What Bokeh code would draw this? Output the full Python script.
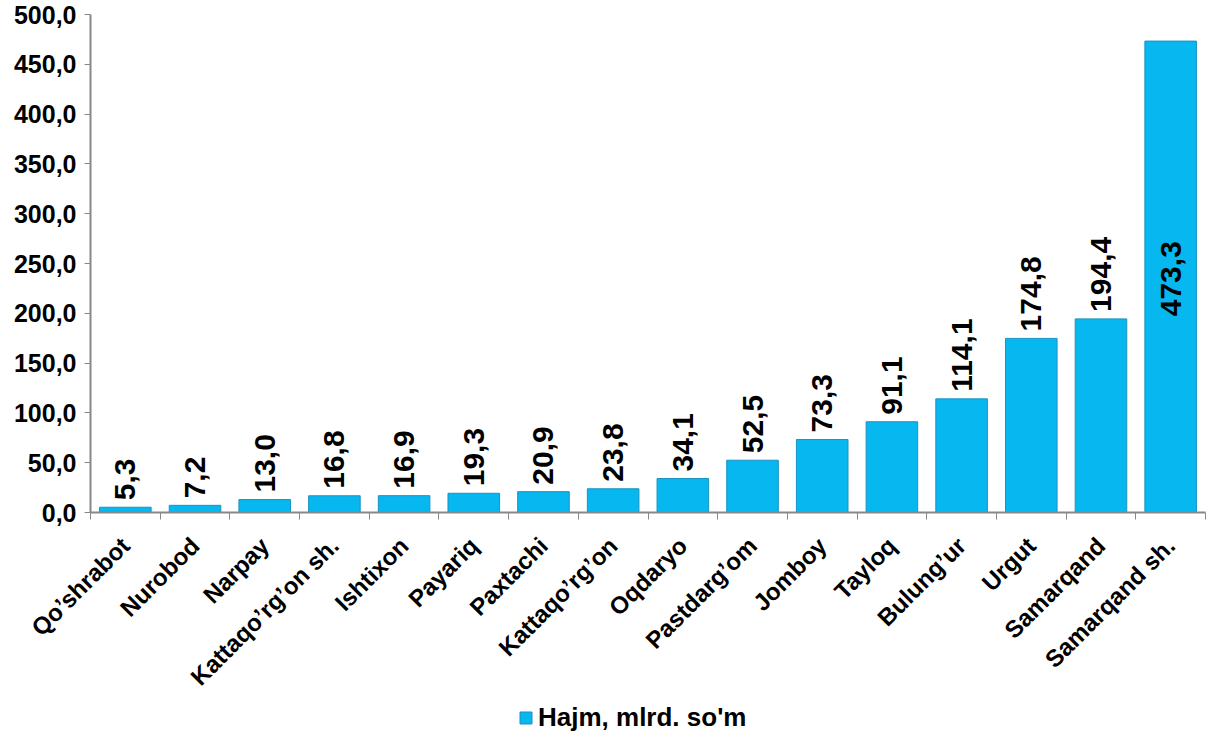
import math
import numpy as np
from bokeh.plotting import figure
from bokeh.layouts import column
from bokeh.models import ColumnDataSource, FixedTicker, Range1d, Legend, LegendItem
from bokeh.core.properties import value
from bokeh.embed import file_html
from bokeh.resources import INLINE

regions = ["Qo\u2019shrabot", "Nurobod", "Narpay", "Kattaqo\u2019rg\u2019on sh.", "Ishtixon",
           "Payariq", "Paxtachi", "Kattaqo\u2019rg\u2019on", "Oqdaryo", "Pastdarg\u2019om",
           "Jomboy", "Tayloq", "Bulung\u2019ur", "Urgut", "Samarqand", "Samarqand sh."]
volumes = [5.3, 7.2, 13.0, 16.8, 16.9, 19.3, 20.9, 23.8, 34.1, 52.5, 73.3, 91.1, 114.1, 174.8, 194.4, 473.3]
y_ticks = [0, 50, 100, 150, 200, 250, 300, 350, 400, 450, 500]
series_name = "Hajm, mlrd. so'm"

FONT = "Liberation Sans"
BAR_FILL = "#07B7EF"
BAR_LINE = "#1A93C2"
n = len(regions)
xs = [i + 0.5 for i in range(n)]
labels = [f"{v:.1f}".replace(".", ",") for v in volumes]
# labels sit above bars; a label that would leave the plot goes inside the bar
label_y = [v if v < 300 else 190 for v in volumes]

src = ColumnDataSource(dict(x=xs, top=volumes, lab=labels, ly=label_y))

p = figure(width=1209, frame_height=498, output_backend="svg", toolbar_location=None,
           x_range=Range1d(0, n), y_range=Range1d(0, 500),
           min_border_left=90, min_border_right=4, min_border_top=14, min_border_bottom=0)
p.outline_line_color = None
p.xgrid.grid_line_color = None
p.ygrid.grid_line_color = None

p.vbar(x="x", top="top", width=0.74, source=src, fill_color=BAR_FILL,
       line_color=BAR_LINE, line_width=1)

p.text(x="x", y="ly", text="lab", source=src, angle=math.pi / 2,
       text_align="left", text_baseline="middle", y_offset=-7,
       text_font=value(FONT), text_font_style="bold", text_font_size="30px",
       text_color="black")

# y axis
p.yaxis.ticker = FixedTicker(ticks=y_ticks)
p.yaxis.major_label_overrides = {t: f"{t:.1f}".replace(".", ",") for t in y_ticks}
p.yaxis.major_label_text_font = FONT
p.yaxis.major_label_text_font_style = "bold"
p.yaxis.major_label_text_font_size = "25px"
p.yaxis.major_label_text_color = "black"
p.yaxis.axis_line_color = "#888888"
p.yaxis.axis_line_width = 2
p.yaxis.major_tick_line_color = "#888888"
p.yaxis.major_tick_out = 6
p.yaxis.major_tick_in = 0
p.yaxis.minor_tick_line_color = None
p.yaxis.major_label_standoff = 8

# x axis: labels at centres, tick marks at boundaries
p.xaxis.ticker = FixedTicker(ticks=xs, minor_ticks=list(range(n + 1)))
p.xaxis.major_label_overrides = {x: name for x, name in zip(xs, regions)}
p.xaxis.major_label_orientation = math.pi / 4
p.xaxis.major_label_text_font = FONT
p.xaxis.major_label_text_font_style = "bold"
p.xaxis.major_label_text_font_size = "24px"
p.xaxis.major_label_text_color = "black"
p.xaxis.axis_line_color = "#888888"
p.xaxis.axis_line_width = 2
p.xaxis.major_tick_line_color = None
p.xaxis.minor_tick_line_color = "#888888"
p.xaxis.minor_tick_out = 7
p.xaxis.minor_tick_in = 0
p.xaxis.major_label_standoff = 22

# legend strip under the chart (its frame is aligned with the main frame)
p2 = figure(width=1209, height=30, output_backend="svg", toolbar_location=None,
            x_range=Range1d(0, 1), y_range=Range1d(0, 1),
            x_axis_location=None, y_axis_location=None,
            min_border=0, min_border_left=0, min_border_right=0,
            min_border_top=0, min_border_bottom=0)
p2.outline_line_color = None
p2.xgrid.grid_line_color = None
p2.ygrid.grid_line_color = None
leg_src = ColumnDataSource(dict(x=np.array([np.nan]), top=np.array([np.nan])))
leg_r = p2.vbar(x="x", top="top", width=0.5, source=leg_src,
                fill_color=BAR_FILL, line_color=BAR_LINE)
legend = Legend(items=[LegendItem(label=series_name, renderers=[leg_r])],
                location=(428, 0), orientation="horizontal",
                label_text_font=FONT, label_text_font_style="bold",
                label_text_font_size="26px", label_text_color="black",
                border_line_color=None, background_fill_alpha=0,
                glyph_width=15, glyph_height=15, label_standoff=5,
                margin=0, padding=0)
p2.add_layout(legend, "center")

open("out.html", "w").write(file_html(column(p, p2, spacing=0), INLINE))
